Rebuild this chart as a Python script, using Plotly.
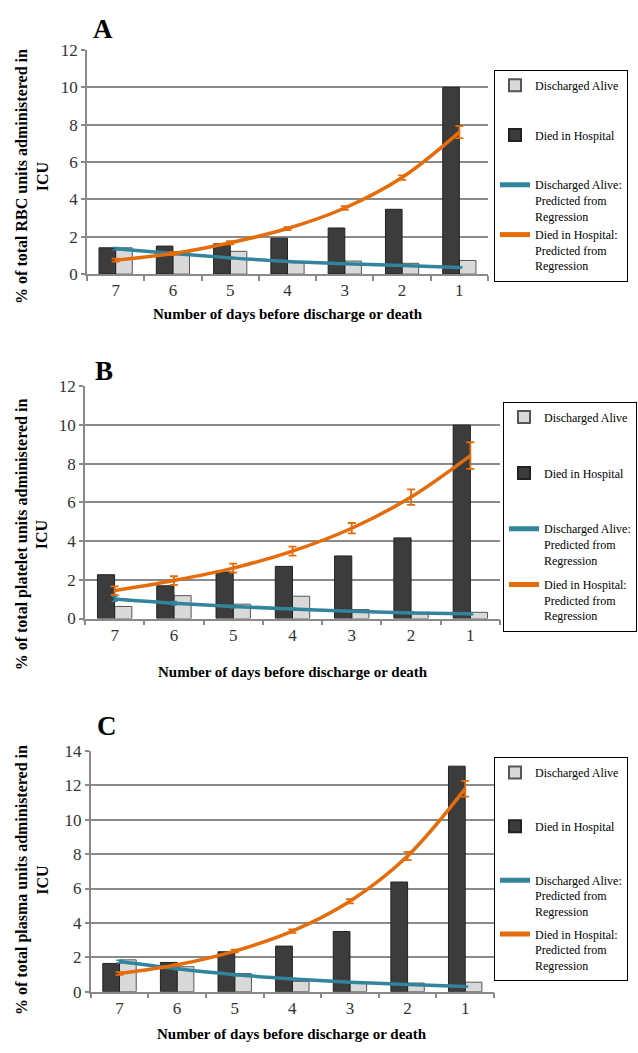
import plotly.graph_objects as go

W, H = 638, 1053
days = ["7", "6", "5", "4", "3", "2", "1"]

# Panel A: RBC
a_died = [1.41, 1.50, 1.62, 1.92, 2.47, 3.47, 10.0]
a_alive = [1.41, 1.20, 1.22, 0.66, 0.70, 0.58, 0.73]
a_pred_died = [0.75, 1.10, 1.68, 2.44, 3.54, 5.17, 7.60]
a_pred_died_err = [0.08, 0.08, 0.08, 0.08, 0.10, 0.12, 0.32]
a_pred_alive = [1.36, 1.10, 0.87, 0.68, 0.56, 0.46, 0.36]
a_pred_alive_err = [0.06, 0.05, 0.04, 0.03, 0.03, 0.03, 0.03]

# Panel B: platelets
b_died = [2.26, 1.69, 2.40, 2.69, 3.23, 4.16, 9.98]
b_alive = [0.62, 1.18, 0.74, 1.15, 0.46, 0.30, 0.32]
b_pred_died = [1.44, 1.96, 2.60, 3.48, 4.66, 6.27, 8.41]
b_pred_died_err = [0.22, 0.22, 0.23, 0.23, 0.27, 0.40, 0.69]
b_pred_alive = [1.01, 0.79, 0.62, 0.49, 0.37, 0.29, 0.24]
b_pred_alive_err = [0.12, 0.09, 0.07, 0.05, 0.04, 0.04, 0.04]

# Panel C: plasma
c_died = [1.64, 1.70, 2.32, 2.65, 3.50, 6.38, 13.12]
c_alive = [1.85, 1.45, 1.05, 0.60, 0.50, 0.50, 0.55]
c_pred_died = [1.05, 1.56, 2.36, 3.52, 5.26, 7.89, 11.81]
c_pred_died_err = [0.08, 0.06, 0.08, 0.10, 0.12, 0.24, 0.46]
c_pred_alive = [1.75, 1.33, 0.99, 0.74, 0.55, 0.42, 0.30]
c_pred_alive_err = [0.08, 0.06, 0.05, 0.04, 0.03, 0.03, 0.03]

ytitles = ["% of total RBC units administered in<br>ICU",
           "% of total platelet units administered in<br>ICU",
           "% of total plasma units administered in<br>ICU"]
xtitle = "Number of days before discharge or death"
letters = ["A", "B", "C"]
names = ["Discharged Alive", "Died in Hospital",
         "Discharged Alive:<br>Predicted from<br>Regression",
         "Died in Hospital:<br>Predicted from<br>Regression"]

FONT = "Liberation Serif"
GRID = "#8a8a8a"
TEAL = "#31849b"
ORANGE = "#e46c0a"
DARK = "#3c3c3c"
LIGHT = "#d9d9d9"

# pixel layout (left, right, top, bottom) of each plot area
areas = [(87, 488, 41.7, 270), (85, 500, 384, 620.7), (90.7, 494, 755.7, 1000.7)]
yranges = [[0, 12], [0, 12], [0, 14]]
legend_pos = [(494, 62, 0), (503, 400, 6), (494, 762, 4)]
ytitle_pos = [(32, 171), (32, 535), (32, 887)]
xtitle_y = [311, 675, 1044]
letter_pos = [(103, 20), (104, 369), (107, 730)]

panels = [
    (a_alive, a_died, a_pred_alive, a_pred_alive_err, a_pred_died, a_pred_died_err),
    (b_alive, b_died, b_pred_alive, b_pred_alive_err, b_pred_died, b_pred_died_err),
    (c_alive, c_died, c_pred_alive, c_pred_alive_err, c_pred_died, c_pred_died_err),
]

pad = "<br>\u00a0<br>\u00a0"

fig = go.Figure()
layout = dict(width=W, height=H, margin=dict(l=0, r=0, t=0, b=0),
              paper_bgcolor="white", plot_bgcolor="white",
              barmode="overlay", font=dict(family=FONT, color="#000"),
              annotations=[])

for i, (alive, died, pa, pae, pd, pde) in enumerate(panels):
    k = "" if i == 0 else str(i + 1)
    xa, ya = "x" + k, "y" + k
    leg = "legend" + k
    fig.add_trace(go.Bar(x=days, y=alive, name=names[0] + pad, xaxis=xa, yaxis=ya,
                         legend=leg, width=0.29, offset=0.0,
                         marker=dict(color=LIGHT, line=dict(color="#555", width=1)),
                         legendgroup="g1" + k))
    fig.add_trace(go.Bar(x=days, y=died, name=names[1] + pad, xaxis=xa, yaxis=ya,
                         legend=leg, width=0.29, offset=-0.29,
                         marker=dict(color=DARK, line=dict(color="#222", width=1)),
                         legendgroup="g2" + k))
    fig.add_trace(go.Scatter(x=days, y=pa, name=names[2], xaxis=xa, yaxis=ya,
                             legend=leg, mode="lines",
                             line=dict(color=TEAL, width=3.5, shape="spline"),
                             error_y=dict(type="data", array=pae, color=TEAL,
                                          thickness=1.5, width=3),
                             legendgroup="g3" + k))
    fig.add_trace(go.Scatter(x=days, y=pd, name=names[3], xaxis=xa, yaxis=ya,
                             legend=leg, mode="lines",
                             line=dict(color=ORANGE, width=3.5, shape="spline"),
                             error_y=dict(type="data", array=pde, color=ORANGE,
                                          thickness=1.8, width=4),
                             legendgroup="g4" + k))

    l, r, t, b = areas[i]
    layout["xaxis" + k] = dict(
        domain=[l / W, r / W], anchor=ya, type="category",
        showline=True, linecolor=GRID, linewidth=1.5,
        ticks="outside", tickson="boundaries", ticklen=5, tickcolor=GRID,
        tickwidth=1.5, showgrid=False,
        tickfont=dict(family=FONT, size=17, color="#333"), fixedrange=True)
    layout["yaxis" + k] = dict(
        domain=[1 - b / H, 1 - t / H], anchor=xa, range=yranges[i],
        dtick=2, showline=True, linecolor=GRID, linewidth=1.5,
        showgrid=True, gridcolor=GRID, gridwidth=1.5, zeroline=False,
        ticks="outside", ticklen=4, tickcolor=GRID, tickwidth=1.5,
        tickfont=dict(family=FONT, size=17, color="#333"), fixedrange=True)

    lx, ly, gap = legend_pos[i]
    layout[leg] = dict(
        x=lx / W, y=1 - ly / H, xanchor="left", yanchor="top",
        bgcolor="white", bordercolor="black", borderwidth=1,
        font=dict(family=FONT, size=12, color="#000"),
        valign="top", traceorder="grouped", tracegroupgap=gap,
        itemwidth=30, itemsizing="constant")

    tx, ty = ytitle_pos[i]
    layout["annotations"].append(dict(
        text="<b>" + ytitles[i].replace("<br>", "</b><br><b>") + "</b>",
        x=tx / W, y=1 - ty / H, xref="paper", yref="paper",
        xanchor="center", yanchor="middle", textangle=-90, showarrow=False,
        font=dict(family=FONT, size=16, color="#000")))
    layout["annotations"].append(dict(
        text="<b>" + xtitle + "</b>", x=((l + r) / 2) / W, y=1 - xtitle_y[i] / H,
        xref="paper", yref="paper", xanchor="center", yanchor="middle",
        showarrow=False, font=dict(family=FONT, size=15, color="#000")))
    px, py = letter_pos[i]
    layout["annotations"].append(dict(
        text="<b>" + letters[i] + "</b>", x=px / W, y=1 - py / H,
        xref="paper", yref="paper", xanchor="center", yanchor="middle",
        showarrow=False, font=dict(family=FONT, size=27, color="#000")))

fig.update_layout(**layout)
fig.write_html("out.html")
